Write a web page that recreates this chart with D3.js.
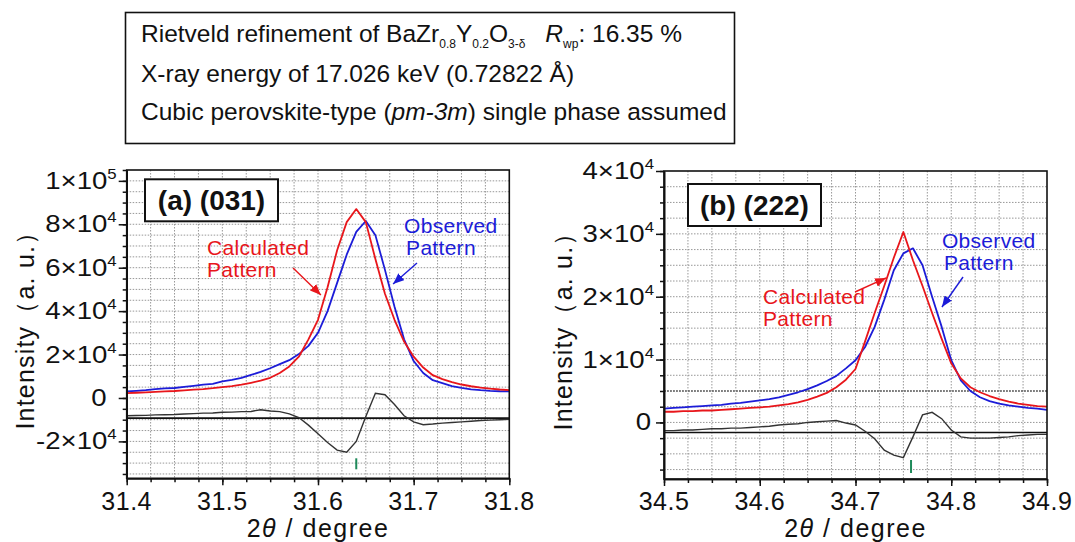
<!DOCTYPE html>
<html><head><meta charset="utf-8">
<script src="https://cdn.jsdelivr.net/npm/d3@7"></script>
<style>
body{margin:0;background:#fff}
svg{display:block}
text{font-family:"Liberation Sans",Arial,Helvetica,sans-serif;fill:#111}
</style>
</head><body>
<svg id="c" width="1075" height="542"></svg>
<script>
// ---------- DATA ----------
const twoThetaA = [31.40,31.41,31.42,31.43,31.44,31.45,31.46,31.47,31.48,31.49,31.50,31.51,31.52,31.53,31.54,31.55,31.56,31.57,31.58,31.59,31.60,31.61,31.62,31.63,31.64,31.65,31.66,31.67,31.68,31.69,31.70,31.71,31.72,31.73,31.74,31.75,31.76,31.77,31.78,31.79,31.80];
const calcA = [2200,2400,2600,2800,3000,3200,3500,3800,4100,4500,5000,5500,6100,7000,8000,9300,11500,14500,19000,27000,36000,51000,68000,81000,87000,81000,64000,48000,36000,26000,19000,14000,10500,8700,7300,6200,5400,4800,4300,3900,3600];
const obsA = [3000,3300,3600,4100,4400,4600,5100,5600,6100,6500,7600,8300,9300,10600,12000,13700,15600,17400,20200,24000,30000,40000,53000,66000,76500,81500,75000,59000,42000,27000,17000,11500,8200,6800,5500,4600,4000,3600,3300,3100,3000];
const diffA = [-8200,-8100,-8000,-7800,-7700,-7600,-7400,-7200,-7000,-6900,-6600,-6500,-6300,-6200,-5400,-6000,-6300,-7300,-9000,-12500,-16500,-20500,-24000,-25000,-20000,-8500,2200,1500,-3000,-8200,-11000,-12300,-12000,-11600,-11300,-11000,-10700,-10400,-10200,-10000,-9800];
const diffZeroA = -9300;
const braggA = [31.640];
const xTickValuesA = [31.4,31.5,31.6,31.7,31.8];
const xTickLabelsA = ["31.4","31.5","31.6","31.7","31.8"];
const yTickValuesA = [-20000,0,20000,40000,60000,80000,100000];
const yTickLabelsA = [["-2×10","4"],["0",""],["2×10","4"],["4×10","4"],["6×10","4"],["8×10","4"],["1×10","5"]];

const twoThetaB = [34.50,34.51,34.52,34.53,34.54,34.55,34.56,34.57,34.58,34.59,34.60,34.61,34.62,34.63,34.64,34.65,34.66,34.67,34.68,34.69,34.70,34.71,34.72,34.73,34.74,34.75,34.76,34.77,34.78,34.79,34.80,34.81,34.82,34.83,34.84,34.85,34.86,34.87,34.88,34.89,34.90];
const calcB = [1700,1700,1800,1800,1900,1900,2000,2100,2200,2300,2400,2500,2700,2900,3200,3600,4100,4700,5600,6800,8500,12900,17400,21700,26200,30300,25800,21700,17400,13300,9400,7000,5600,4800,4200,3700,3300,3000,2800,2600,2500];
const obsB = [2200,2300,2400,2500,2600,2700,2800,3000,3100,3300,3500,3700,4000,4400,4800,5300,5900,6600,7400,8600,9900,12000,15200,19500,24200,26900,27700,25000,20000,15200,9900,6700,5000,4000,3400,3000,2700,2500,2300,2200,2000];
const diffB = [-1300,-1300,-1200,-1200,-1100,-1000,-1000,-900,-900,-800,-700,-600,-400,-300,-200,0,100,200,300,-100,-400,-1400,-2600,-4400,-5200,-5600,-2300,1200,1600,600,-1200,-2300,-2500,-2500,-2500,-2400,-2300,-2100,-2000,-1900,-1900];
const diffZeroB = -1600;
const braggB = [34.758];
const xTickValuesB = [34.5,34.6,34.7,34.8,34.9];
const xTickLabelsB = ["34.5","34.6","34.7","34.8","34.9"];
const yTickValuesB = [0,10000,20000,30000,40000];
const yTickLabelsB = [["0",""],["1×10","4"],["2×10","4"],["3×10","4"],["4×10","4"]];

const panelLabels = ["(a) (031)", "(b) (222)"];

// ---------- DRAW ----------
const svg = d3.select("#c");
const RED = "#e8161b", BLUE = "#1c1cd8";
const defs = svg.append("defs");
[["arrRed",RED],["arrBlue",BLUE]].forEach(([id,col])=>{
  defs.append("marker").attr("id",id).attr("markerUnits","userSpaceOnUse")
    .attr("markerWidth",12).attr("markerHeight",9).attr("refX",11).attr("refY",4.5)
    .attr("orient","auto").append("path").attr("d","M0,0 L11,4.5 L0,9 Z").attr("fill",col);
});

// Title box
svg.append("rect").attr("x",125.5).attr("y",12.5).attr("width",609).attr("height",131)
  .attr("fill","#fff").attr("stroke","#111").attr("stroke-width",1.6);
const t1 = svg.append("text").attr("x",141).attr("y",42).attr("font-size",24.5);
t1.append("tspan").text("Rietveld refinement of BaZr");
t1.append("tspan").attr("font-size",12).attr("dy",6).text("0.8");
t1.append("tspan").attr("dy",-6).text("Y");
t1.append("tspan").attr("font-size",12).attr("dy",6).text("0.2");
t1.append("tspan").attr("dy",-6).text("O");
t1.append("tspan").attr("font-size",12).attr("dy",6).text("3-δ");
t1.append("tspan").attr("dy",-6).attr("dx",20).attr("font-style","italic").text("R");
t1.append("tspan").attr("font-size",12).attr("dy",6).text("wp");
t1.append("tspan").attr("dy",-6).text(": 16.35 %");
svg.append("text").attr("x",141).attr("y",82).attr("font-size",24.5).text("X-ray energy of 17.026 keV (0.72822 Å)");
const t3 = svg.append("text").attr("x",141).attr("y",120).attr("font-size",24.5);
t3.append("tspan").text("Cubic perovskite-type (");
t3.append("tspan").attr("font-style","italic").text("pm-3m");
t3.append("tspan").text(") single phase assumed");

const panels = [
  {left:126.7,right:509.3,top:170,bottom:478.3,xDom:[31.4,31.8],yDom:[-37000,105000],
   yMinorStep:5000, tt:twoThetaA, calc:calcA, obs:obsA, diff:diffA, zero:diffZeroA, bragg:braggA,
   xtv:xTickValuesA, xtl:xTickLabelsA, ytv:yTickValuesA, ytl:yTickLabelsA, label:panelLabels[0],
   box:{dx:18.3,dy:9.3}, ylabX:25, braggPx:[-20,-9], darkLine:null, zeroShift:10,
   ann:{calc:[31.484,66000], obs:[31.690,75800], ra:[[31.574,59900],[31.603,47430]], ba:[[31.7035,62170],[31.6785,52500]]}},
  {left:664,right:1047,top:171,bottom:479,xDom:[34.5,34.9],yDom:[-9000,40000],
   yMinorStep:2500, tt:twoThetaB, calc:calcB, obs:obsB, diff:diffB, zero:diffZeroB, bragg:braggB,
   xtv:xTickValuesB, xtl:xTickLabelsB, ytv:yTickValuesB, ytl:yTickLabelsB, label:panelLabels[1],
   box:{dx:24,dy:13}, ylabX:563, braggPx:[-19,-6], darkLine:5000, zeroShift:3,
   ann:{calc:[34.6034,18900], obs:[34.7903,27700], ra:[[34.6995,20750],[34.7319,22980]], ba:[[34.8123,23140],[34.7903,18360]]}}
];

panels.forEach(p=>{
  const x = d3.scaleLinear().domain(p.xDom).range([p.left,p.right]);
  const y = d3.scaleLinear().domain(p.yDom).range([p.bottom,p.top]);
  const g = svg.append("g");
  const xMinor = d3.range(0,17).map(i=>+(p.xDom[0]+i*0.025).toFixed(3));
  const y0 = Math.ceil(p.yDom[0]/p.yMinorStep)*p.yMinorStep;
  const yMinor = d3.range(y0, p.yDom[1]+1, p.yMinorStep);
  // grid
  g.append("g").selectAll("line").data(xMinor.slice(1,-1)).join("line")
    .attr("x1",d=>x(d)).attr("x2",d=>x(d)).attr("y1",p.top).attr("y2",p.bottom)
    .attr("stroke","#8c8c8c").attr("stroke-width",0.9).attr("stroke-dasharray","1.5,1.5");
  g.append("g").selectAll("line").data(yMinor.filter(v=>y(v)>p.top+1)).join("line")
    .attr("x1",p.left).attr("x2",p.right).attr("y1",d=>y(d)).attr("y2",d=>y(d))
    .attr("stroke","#8c8c8c").attr("stroke-width",0.9).attr("stroke-dasharray","1.5,1.5");
  if(p.darkLine!==null){
    g.append("line").attr("x1",p.left).attr("x2",p.right).attr("y1",y(p.darkLine)).attr("y2",y(p.darkLine))
      .attr("stroke","#333").attr("stroke-width",1).attr("stroke-dasharray","2,1");
  }
  // diff zero line
  g.append("line").attr("x1",p.left).attr("x2",p.right).attr("y1",y(p.zero)).attr("y2",y(p.zero))
    .attr("stroke","#111").attr("stroke-width",1.7);
  const line = (arr)=>d3.line().x((d,i)=>x(p.tt[i])).y(d=>y(d))(arr);
  g.append("path").attr("d",line(p.diff)).attr("fill","none").attr("stroke","#333").attr("stroke-width",1.4);
  g.append("path").attr("d",line(p.obs)).attr("fill","none").attr("stroke",BLUE).attr("stroke-width",1.8).attr("stroke-linejoin","round");
  g.append("path").attr("d",line(p.calc)).attr("fill","none").attr("stroke",RED).attr("stroke-width",1.8).attr("stroke-linejoin","round");
  // bragg markers
  g.selectAll("line.bragg").data(p.bragg).join("line").attr("class","bragg")
    .attr("x1",d=>x(d)).attr("x2",d=>x(d)).attr("y1",p.bottom+p.braggPx[0]).attr("y2",p.bottom+p.braggPx[1])
    .attr("stroke","#1e8a5a").attr("stroke-width",2);
  // axes
  const styleAxis = sel=>{sel.select(".domain").attr("stroke","#111").attr("stroke-width",1.6);
    sel.selectAll(".tick line").attr("stroke","#111").attr("stroke-width",1.5);};
  g.append("g").attr("transform",`translate(0,${p.bottom})`)
    .call(d3.axisBottom(x).tickValues(xMinor).tickSize(4).tickSizeOuter(0).tickFormat("")).call(styleAxis);
  g.append("g").attr("transform",`translate(0,${p.bottom})`)
    .call(d3.axisBottom(x).tickValues(p.xtv).tickSize(7).tickSizeOuter(0).tickFormat("")).call(styleAxis);
  g.append("g").attr("transform",`translate(${p.left},0)`)
    .call(d3.axisLeft(y).tickValues(yMinor).tickSize(4).tickSizeOuter(0).tickFormat("")).call(styleAxis);
  g.append("g").attr("transform",`translate(${p.left},0)`)
    .call(d3.axisLeft(y).tickValues(p.ytv).tickSize(8).tickSizeOuter(0).tickFormat("")).call(styleAxis);
  // frame
  g.append("rect").attr("x",p.left).attr("y",p.top).attr("width",p.right-p.left).attr("height",p.bottom-p.top)
    .attr("fill","none").attr("stroke","#111").attr("stroke-width",1.6);
  // x tick labels
  g.selectAll("text.xl").data(p.xtv).join("text").attr("class","xl")
    .attr("x",d=>x(d)).attr("y",510).attr("text-anchor","middle").attr("font-size",25)
    .attr("letter-spacing",0.5).text((d,i)=>p.xtl[i]);
  // y tick labels
  p.ytv.forEach((v,i)=>{
    const [base,sup] = p.ytl[i];
    const gg = g.append("g").attr("transform",`translate(${p.left-10 - (sup?0:p.zeroShift)},${y(v)+8}) scale(1.2,1)`);
    const t = gg.append("text").attr("text-anchor","end").attr("font-size",23);
    t.append("tspan").text(base);
    if(sup) t.append("tspan").attr("font-size",14).attr("dy",-10).text(sup);
  });
  // axis titles
  const xt = g.append("text").attr("x",(p.left+p.right)/2).attr("y",537).attr("text-anchor","middle")
    .attr("font-size",25).attr("letter-spacing",1.5);
  xt.append("tspan").text("2");
  xt.append("tspan").attr("font-style","italic").text("θ");
  xt.append("tspan").text(" / degree");
  g.append("text").attr("transform",`translate(${p.ylabX},${(p.top+p.bottom)/2+0}) rotate(-90)`)
    .attr("text-anchor","middle").attr("dy","0.35em").attr("font-size",25).attr("letter-spacing",1.2)
    .text("Intensity（a. u.）");
  // panel label box
  const bx = p.left+p.box.dx, by = p.top+p.box.dy;
  g.append("rect").attr("x",bx).attr("y",by).attr("width",133).attr("height",42)
    .attr("fill","#fff").attr("stroke","#111").attr("stroke-width",2);
  g.append("text").attr("x",bx+66.5).attr("y",by+31).attr("text-anchor","middle")
    .attr("font-size",28).attr("font-weight","bold").text(p.label);
  // annotations
  const a = p.ann;
  const ct = g.append("text").attr("x",x(a.calc[0])).attr("y",y(a.calc[1])).attr("font-size",21).style("fill",RED);
  ct.append("tspan").attr("letter-spacing",0.3).text("Calculated");
  ct.append("tspan").attr("x",x(a.calc[0])).attr("dy",22).attr("letter-spacing",0.3).text("Pattern");
  const ot = g.append("text").attr("x",x(a.obs[0])).attr("y",y(a.obs[1])).attr("font-size",21).style("fill",BLUE);
  ot.append("tspan").attr("letter-spacing",0.3).text("Observed");
  ot.append("tspan").attr("x",x(a.obs[0])+2).attr("dy",22).attr("letter-spacing",0.3).text("Pattern");
  g.append("line").attr("x1",x(a.ra[0][0])).attr("y1",y(a.ra[0][1])).attr("x2",x(a.ra[1][0])).attr("y2",y(a.ra[1][1]))
    .attr("stroke",RED).attr("stroke-width",1.4).attr("marker-end","url(#arrRed)");
  g.append("line").attr("x1",x(a.ba[0][0])).attr("y1",y(a.ba[0][1])).attr("x2",x(a.ba[1][0])).attr("y2",y(a.ba[1][1]))
    .attr("stroke",BLUE).attr("stroke-width",1.4).attr("marker-end","url(#arrBlue)");
});
</script>
</body></html>
